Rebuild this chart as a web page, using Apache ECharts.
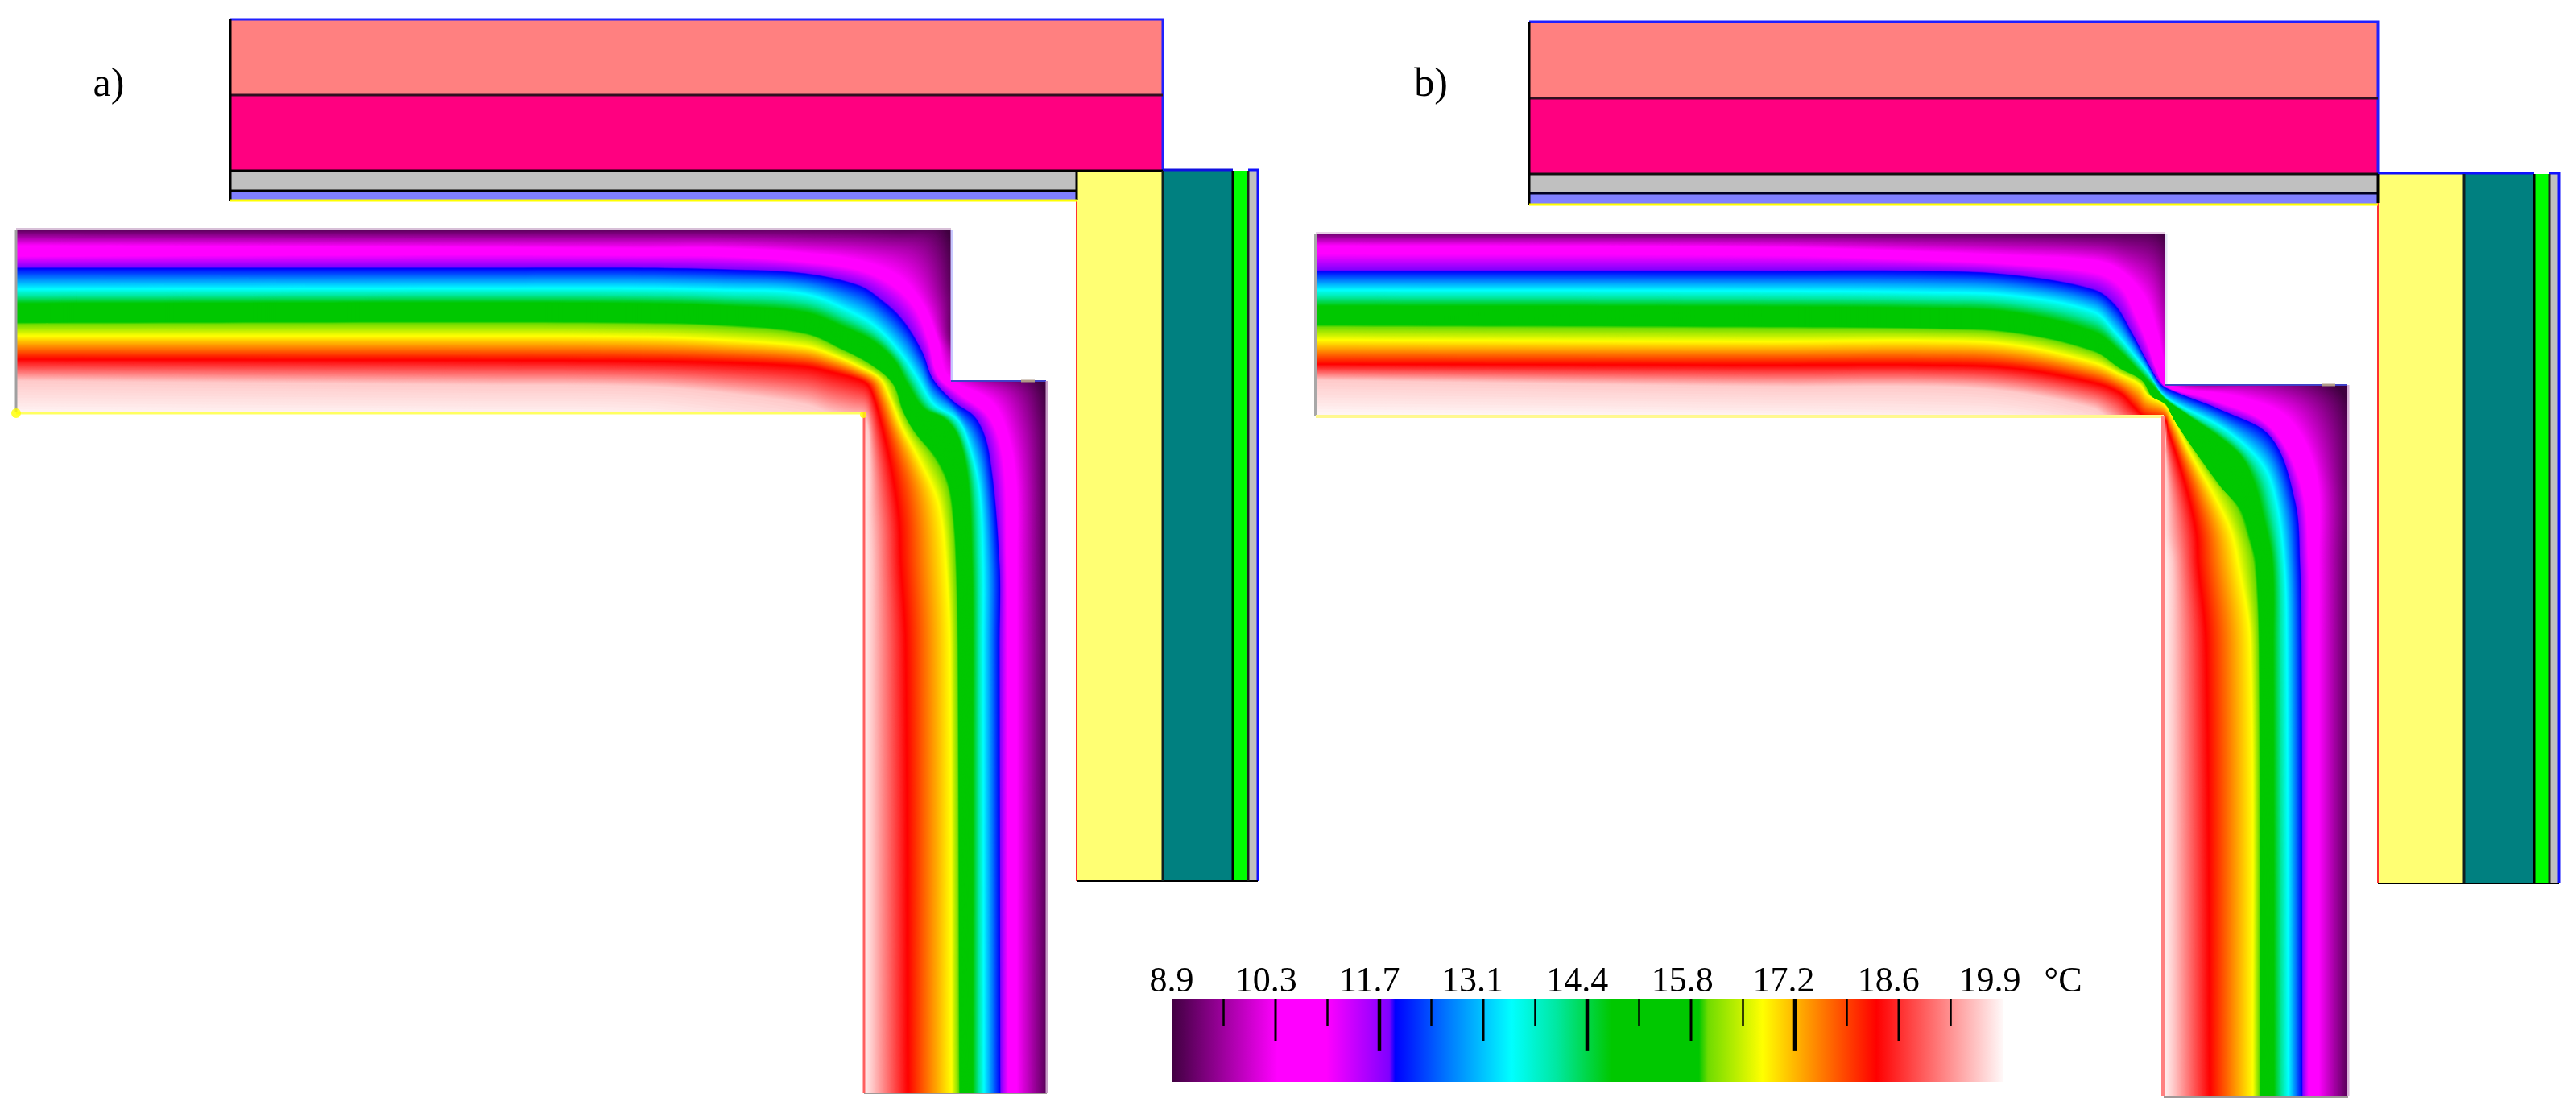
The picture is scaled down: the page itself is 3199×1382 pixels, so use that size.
<!DOCTYPE html>
<html><head><meta charset="utf-8">
<style>html,body{margin:0;padding:0;background:#fff}#c{width:3199px;height:1382px}</style>
<script src="https://cdn.jsdelivr.net/npm/echarts@6/dist/echarts.min.js"></script>
</head><body><div id="c"></div>
<script>
// ---- temperature scale (degC) ----
const scaleMin = 8.9, scaleMax = 19.9;
const cmapT = [8.9,10.3,10.95,11.78,11.86,12.6,13.4,14.0,14.72,15.88,16.0,16.72,18.23,19.9];
const cmapColors = ['#400040','#ff00ff','#ff00ff','#8000ff','#0000ff','#0080ff','#00ffff','#00e8a0','#00c800','#00c800','#70dc00','#ffff00','#ff0000','#fff8f8'];
const legendTicks = [9.5875,10.275,10.9625,11.65,12.3375,13.025,13.7125,14.4,15.0875,15.775,16.4625,17.15,17.8375,18.525,19.2125];
const legendTickClass = [0,1,0,2,0,1,0,2,0,1,0,2,0,1,0];
const legendLabels = ['8.9','10.3','11.7','13.1','14.4','15.8','17.2','18.6','19.9','°C'];
const legendLabelAt = [8.9,10.15,11.52,12.88,14.27,15.66,17.0,18.39,19.73,20.7];

// ---- isotherm levels, one curve per level per panel ----
const isoLevels = [8.9,10.3,10.95,11.86,13.4,14.72,15.88,16.72,18.23,19.6,19.9];

const a_dark  = [[20,282],[600,282],[800,281],[900,281],[1000,279],[1133,280],[1175,283],[1188,363],[1190,430],[1233,462],[1290,472],[1302,513],[1303,580],[1304,700],[1305,800],[1305,1357]];
const a_mag1  = [[20,305],[600,307],[800,308],[900,308],[1000,314],[1067,323],[1117,343],[1148,380],[1165,423],[1178,467],[1230,497],[1250,533],[1262,597],[1263,700],[1263,800],[1263,1357]];
const a_mag2  = [[20,318],[600,316],[800,317],[900,318],[1000,325],[1067,335],[1110,355],[1137,383],[1153,423],[1165,467],[1190,488],[1230,520],[1247,580],[1250,700],[1251,800],[1252,1357]];
const a_blue  = [[20,333],[600,333],[800,333],[900,335],[1000,340],[1067,355],[1093,372],[1120,397],[1145,437],[1158,470],[1183,498],[1212,520],[1228,563],[1241,700],[1241,800],[1242,1357]];
const a_cyan  = [[20,359],[600,358],[800,358],[900,360],[1000,365],[1067,392],[1093,410],[1120,440],[1140,470],[1160,502],[1190,522],[1205,557],[1217,613],[1221,700],[1221,800],[1222,1357]];
const a_grn1  = [[20,377],[600,376],[800,377],[900,380],[1000,388],[1050,407],[1083,423],[1110,447],[1127,477],[1147,507],[1173,520],[1190,543],[1202,597],[1207,700],[1208,800],[1208,1357]];
const a_grn2  = [[20,400],[600,399],[800,400],[900,403],[1000,413],[1050,435],[1083,453],[1110,477],[1123,513],[1137,537],[1162,567],[1178,600],[1185,647],[1188,700],[1190,800],[1192,1357]];
const a_yel   = [[20,417],[600,417],[800,418],[900,422],[1000,430],[1033,440],[1067,455],[1093,470],[1105,493],[1120,530],[1140,567],[1162,613],[1170,647],[1175,700],[1180,800],[1182,1357]];
const a_red   = [[20,446],[600,447],[800,448],[900,450],[1000,455],[1033,462],[1063,470],[1077,477],[1085,493],[1093,520],[1102,557],[1110,597],[1117,647],[1119,700],[1125,800],[1128,1357]];
const a_pink  = [[20,473],[600,478],[800,480],[900,488],[1000,502],[1033,513],[1057,518],[1073,520],[1078,533],[1080,563],[1081,597],[1081,630],[1082,663],[1083,700],[1083,800],[1083,1357]];
const a_white = [[20,515],[600,518],[800,520],[900,533],[1000,547],[1033,555],[1057,560],[1068,565],[1070,580],[1071,600],[1071,620],[1071,640],[1071,665],[1071,700],[1071,800],[1071,1357]];

const b_dark  = [[1634,285],[2200,285],[2400,284],[2500,284],[2600,285],[2633,283],[2683,285],[2697,330],[2700,413],[2707,467],[2880,470],[2917,500],[2923,613],[2921,700],[2921,800],[2921,1361]];
const b_mag1  = [[1634,305],[2200,307],[2400,313],[2500,317],[2600,323],[2633,335],[2663,367],[2678,407],[2687,447],[2692,477],[2783,493],[2843,520],[2877,590],[2880,700],[2880,800],[2880,1361]];
const b_mag2  = [[1634,315],[2200,317],[2400,323],[2500,328],[2600,338],[2633,355],[2653,393],[2667,427],[2678,460],[2689,480],[2743,495],[2817,528],[2857,600],[2867,700],[2867,800],[2867,1361]];
const b_blue  = [[1634,337],[2200,337],[2400,337],[2500,342],[2600,360],[2627,380],[2647,413],[2663,443],[2680,473],[2690,482],[2760,510],[2820,543],[2850,623],[2856,700],[2858,800],[2859,1361]];
const b_cyan  = [[1634,360],[2200,361],[2400,363],[2500,367],[2600,387],[2627,413],[2647,437],[2667,462],[2683,487],[2700,500],[2763,533],[2810,577],[2827,623],[2837,700],[2840,800],[2842,1361]];
const b_grn1  = [[1634,380],[2200,381],[2400,383],[2500,388],[2600,412],[2633,437],[2657,462],[2677,483],[2690,497],[2713,513],[2777,560],[2797,593],[2812,647],[2822,700],[2823,800],[2824,1361]];
const b_grn2  = [[1634,403],[2200,405],[2400,407],[2500,412],[2600,435],[2633,457],[2660,472],[2673,493],[2690,503],[2700,523],[2760,607],[2783,633],[2795,670],[2802,700],[2806,800],[2807,1361]];
const b_yel   = [[1634,422],[2200,424],[2400,423],[2500,428],[2600,450],[2633,465],[2657,477],[2667,490],[2687,502],[2697,517],[2720,563],[2747,610],[2770,657],[2780,700],[2795,800],[2798,1361]];
const b_red   = [[1634,452],[2200,453],[2400,453],[2500,457],[2600,475],[2633,488],[2650,505],[2663,517],[2689,522],[2692,533],[2702,563],[2717,613],[2728,663],[2730,700],[2740,800],[2745,1361]];
const b_pink  = [[1634,472],[2200,480],[2400,480],[2500,487],[2600,507],[2617,518],[2633,527],[2667,533],[2687,540],[2689,563],[2691,597],[2692,630],[2693,663],[2698,700],[2699,800],[2699,1361]];
const b_white = [[1634,515],[2200,520],[2400,525],[2500,527],[2600,543],[2617,555],[2633,560],[2667,565],[2684,570],[2685,600],[2685,620],[2685,640],[2685,665],[2686,700],[2686,800],[2686,1361]];

const a_isos = [a_dark,a_mag1,a_mag2,a_blue,a_cyan,a_grn1,a_grn2,a_yel,a_red,a_pink,a_white];
const b_isos = [b_dark,b_mag1,b_mag2,b_blue,b_cyan,b_grn1,b_grn2,b_yel,b_red,b_pink,b_white];

// ---- domain outlines of the two thermal fields ----
const a_domain = [[20,285],[1181,285],[1181,473],[1299,473],[1299,1357],[1073,1357],[1073,512],[20,512]];
const b_domain = [[1634,290],[2689,290],[2689,478],[2915,478],[2915,1361],[2687,1361],[2687,517],[1634,517]];

// ---- construction layers: x0,y0,x1,y1,material ----
const materials = ['#ff8080','#ff0080','#c0c0c0','#8080ff','#ffff73','#008080','#00ff00'];
const a_layers = [[286,24,1444,118,0],[286,118,1444,212,1],[286,212,1337,237,2],[286,237,1337,248,3],[1337,212,1444,1094,4],[1444,212,1531,1094,5],[1531,212,1550,1094,6],[1550,212,1562,1094,2]];
const b_layers = [[1899,27,2953,122,0],[1899,122,2953,216,1],[1899,216,2953,240,2],[1899,240,2953,253,3],[2953,216,3060,1097,4],[3060,216,3147,1097,5],[3147,216,3166,1097,6],[3166,216,3178,1097,2]];

// ---- edge lines: points, colour, width ----
const a_edges = [
 [[[286,24],[1444,24],[1444,212]],'#2020ff',3],[[[1444,211],[1531,211]],'#1010e0',3],[[[1550,211],[1562,211],[1562,1094]],'#1010ff',3],
 [[[1337,1094],[1562,1094]],'#000000',2],[[[286,118],[1444,118]],'#301020',3],[[[286,212],[1444,212]],'#000000',3],[[[286,237],[1337,237]],'#000000',3],
 [[[286,24],[286,250]],'#000000',3],[[[1337,212],[1337,248]],'#000000',3],[[[1337,248],[1337,1094]],'#ff3030',2],[[[286,249],[1337,249]],'#ffff00',3],
 [[[1444,212],[1444,1094]],'#102020',3],[[[1531,212],[1531,1094]],'#000000',3],[[[1550,212],[1550,1094]],'#202020',3],
 [[[20,285],[20,512]],'#a0a0a0',3],[[[20,284],[1181,284]],'#d8c0d8',2],[[[1182,285],[1182,472]],'#c8c8ff',3],[[[1181,473],[1299,473]],'#4040c8',2],[[[1268,473],[1285,473]],'#b09a88',3],
 [[[1300,473],[1300,1357]],'#c8a0c8',3],[[[20,513],[1073,513]],'#ffff60',3],[[[1073,512],[1073,1357]],'#ff6060',3],[[[1073,1358],[1300,1358]],'#a09898',2]
];
const b_edges = [
 [[[1899,27],[2953,27],[2953,216]],'#2020ff',3],[[[2953,215],[3147,215]],'#1010ff',3],[[[3166,215],[3178,215],[3178,1097]],'#1010ff',3],
 [[[2953,1097],[3178,1097]],'#000000',2],[[[1899,122],[2953,122]],'#301020',3],[[[1899,216],[2953,216]],'#101010',3],[[[1899,240],[2953,240]],'#000020',3],
 [[[1899,27],[1899,254]],'#000000',3],[[[2953,216],[2953,252]],'#000000',3],[[[2953,252],[2953,1097]],'#ff3030',2],[[[1899,254],[2953,254]],'#ffff00',3],
 [[[3060,216],[3060,1097]],'#102020',3],[[[3147,216],[3147,1097]],'#000000',3],[[[3166,216],[3166,1097]],'#202020',3],
 [[[1634,290],[1634,517]],'#a8a8a8',4],[[[1634,289],[2689,289]],'#e8d0e8',2],[[[2690,290],[2690,478]],'#e4e4f4',3],[[[2689,478],[2915,478]],'#4040c8',2],[[[2883,478],[2900,478]],'#b09a88',3],
 [[[2916,478],[2916,1361]],'#d8b0d8',3],[[[1634,517],[2687,517]],'#fff890',4],[[[2686,517],[2686,1361]],'#ff8080',4],[[[2687,1362],[2916,1362]],'#a09898',2]
];
const a_dots = [[20,513,6],[1072,515,4]];
const panelLabels = [['a)',135,106],['b)',1777,106]];

function hex(c){return [parseInt(c.slice(1,3),16),parseInt(c.slice(3,5),16),parseInt(c.slice(5,7),16)];}
function colorAt(t){
  let i=0; while(i<cmapT.length-2 && t>cmapT[i+1]) i++;
  const f=Math.max(0,Math.min(1,(t-cmapT[i])/(cmapT[i+1]-cmapT[i])));
  const a=hex(cmapColors[i]),b=hex(cmapColors[i+1]);
  return 'rgb('+a.map((v,k)=>Math.round(v+(b[k]-v)*f)).join(',')+')';
}
function curveAt(isos,t){
  let k=0; while(k<isoLevels.length-2 && t>isoLevels[k+1]) k++;
  const f=(t-isoLevels[k])/(isoLevels[k+1]-isoLevels[k]);
  return isos[k].map((p,j)=>[p[0]+(isos[k+1][j][0]-p[0])*f,p[1]+(isos[k+1][j][1]-p[1])*f]);
}
function fieldSeries(isos,domain){
  return {type:'custom',xAxisIndex:0,yAxisIndex:0,silent:true,animation:false,data:[[0]],z:2,
    renderItem(params,api){
      const children=[{type:'polygon',shape:{points:domain.map(p=>api.coord(p))},style:{fill:cmapColors[0]}}];
      const left=domain[0][0]-60,bottom=domain[4][1]+60;
      for(let n=1;n<=440;n++){
        const t=scaleMin+n*0.025;
        const c=curveAt(isos,t);
        const last=c[c.length-1];
        const pts=[[left,c[0][1]]].concat(c,[[last[0],bottom],[left,bottom]]).map(p=>api.coord(p));
        children.push({type:'polygon',shape:{points:pts,smooth:0.35},style:{fill:colorAt(t)},silent:true});
      }
      return {type:'group',clipPath:{type:'polygon',shape:{points:domain.map(p=>api.coord(p))}},children};
    }};
}
function layerSeries(layers){
  return {type:'custom',silent:true,animation:false,z:1,data:layers,
    renderItem(params,api){
      const p0=api.coord([api.value(0),api.value(1)]),p1=api.coord([api.value(2),api.value(3)]);
      return {type:'rect',shape:{x:p0[0],y:p0[1],width:p1[0]-p0[0],height:p1[1]-p0[1]},style:{fill:materials[api.value(4)]}};
    }};
}
function edgeSeries(edges){
  return {type:'custom',silent:true,animation:false,z:3,data:edges.map((e,i)=>[i]),
    renderItem(params,api){
      const e=edges[api.value(0)];
      return {type:'polyline',shape:{points:e[0].map(p=>api.coord(p))},style:{stroke:e[1],lineWidth:e[2],fill:null}};
    }};
}
const stops=cmapT.map((t,i)=>({offset:(t-scaleMin)/(scaleMax-scaleMin),color:cmapColors[i]}));
const tickLen=[0.33,0.505,0.63], tickW=[2.5,3,4.5];
const chart=echarts.init(document.getElementById('c'),null,{renderer:'canvas'});
chart.setOption({
  animation:false,backgroundColor:'#fff',
  grid:[{left:0,right:0,top:0,bottom:0},{left:1455,width:1032,top:1240,height:103}],
  xAxis:[{type:'value',min:0,max:3199,show:false,gridIndex:0},{type:'value',min:scaleMin,max:scaleMax,show:false,gridIndex:1}],
  yAxis:[{type:'value',min:0,max:1382,inverse:true,show:false,gridIndex:0},{type:'value',min:0,max:1,inverse:true,show:false,gridIndex:1}],
  series:[
    layerSeries(a_layers),layerSeries(b_layers),
    fieldSeries(a_isos,a_domain),fieldSeries(b_isos,b_domain),
    edgeSeries(a_edges),edgeSeries(b_edges),
    {type:'scatter',symbolSize:d=>d[2]*2,data:a_dots,itemStyle:{color:'#ffff00'},silent:true,z:4},
    {type:'custom',silent:true,animation:false,z:5,data:panelLabels,
     renderItem(params,api){
       const p=api.coord([api.value(1),api.value(2)]);
       return {type:'text',x:p[0],y:p[1],style:{text:panelLabels[params.dataIndex][0],font:'50px "Liberation Serif"',fill:'#000',textAlign:'center',textVerticalAlign:'middle'}};
     }},
    {type:'custom',silent:true,animation:false,xAxisIndex:1,yAxisIndex:1,z:2,data:[[scaleMin,0,scaleMax,1]],
     renderItem(params,api){
       const p0=api.coord([api.value(0),api.value(1)]),p1=api.coord([api.value(2),api.value(3)]);
       return {type:'rect',shape:{x:p0[0],y:p0[1],width:p1[0]-p0[0],height:p1[1]-p0[1]},
         style:{fill:new echarts.graphic.LinearGradient(0,0,1,0,stops)}};
     }},
    {type:'custom',silent:true,animation:false,xAxisIndex:1,yAxisIndex:1,z:3,data:legendTicks.map((t,i)=>[t,legendTickClass[i]]),
     renderItem(params,api){
       const t=api.value(0),c=api.value(1);
       const p0=api.coord([t,0]),p1=api.coord([t,tickLen[c]]);
       return {type:'line',shape:{x1:p0[0],y1:p0[1],x2:p1[0],y2:p1[1]},style:{stroke:'#000',lineWidth:tickW[c]}};
     }},
    {type:'custom',silent:true,animation:false,xAxisIndex:1,yAxisIndex:1,z:5,data:legendLabelAt.map(t=>[t]),
     renderItem(params,api){
       const p=api.coord([api.value(0),0]);
       return {type:'text',x:p[0],y:p[1]-21,style:{text:legendLabels[params.dataIndex],font:'44px "Liberation Serif"',fill:'#000',textAlign:'center',textVerticalAlign:'middle'}};
     }}
  ]
});
</script></body></html>
